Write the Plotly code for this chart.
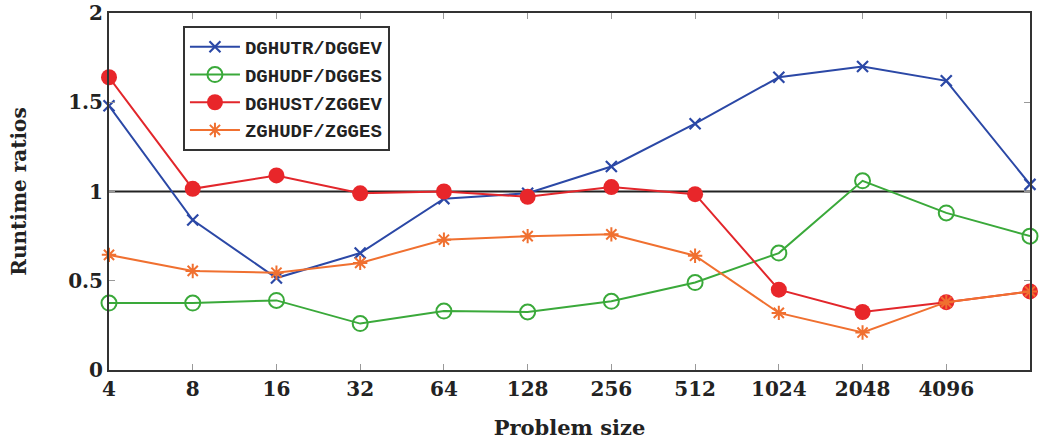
import plotly.graph_objects as go

sizes = ["4", "8", "16", "32", "64", "128", "256", "512", "1024", "2048", "4096", "8192"]
tick_labels = ["4", "8", "16", "32", "64", "128", "256", "512", "1024", "2048", "4096", ""]

dghutr_dggev = [1.48, 0.84, 0.515, 0.655, 0.96, 0.99, 1.14, 1.38, 1.64, 1.70, 1.62, 1.04]
dghudf_dgges = [0.375, 0.375, 0.39, 0.26, 0.33, 0.325, 0.385, 0.49, 0.655, 1.06, 0.88, 0.75]
dghust_zggev = [1.64, 1.015, 1.09, 0.99, 1.0, 0.97, 1.025, 0.985, 0.45, 0.325, 0.38, 0.44]
zghudf_zgges = [0.645, 0.555, 0.545, 0.60, 0.73, 0.75, 0.76, 0.64, 0.32, 0.21, 0.38, 0.44]

fig = go.Figure()
fig.add_trace(go.Scatter(x=sizes, y=dghutr_dggev, name="<b>DGHUTR/DGGEV</b>", mode="lines+markers",
                         line=dict(color="#2b48a6", width=2),
                         marker=dict(symbol="x-thin-open", size=11, line=dict(color="#2b48a6", width=2.2)),
                         cliponaxis=False))
fig.add_trace(go.Scatter(x=sizes, y=dghudf_dgges, name="<b>DGHUDF/DGGES</b>", mode="lines+markers",
                         line=dict(color="#3aa93a", width=2),
                         marker=dict(symbol="circle-open", size=15, line=dict(color="#3aa93a", width=2)),
                         cliponaxis=False))
fig.add_trace(go.Scatter(x=sizes, y=dghust_zggev, name="<b>DGHUST/ZGGEV</b>", mode="lines+markers",
                         line=dict(color="#e2262b", width=2),
                         marker=dict(symbol="circle", size=16, color="#e8262a"),
                         cliponaxis=False))
fig.add_trace(go.Scatter(x=sizes, y=zghudf_zgges, name="<b>ZGHUDF/ZGGES</b>", mode="lines+markers",
                         line=dict(color="#f07030", width=2),
                         marker=dict(symbol="asterisk-open", size=12, line=dict(color="#f07030", width=2)),
                         cliponaxis=False))

fig.add_shape(type="line", xref="paper", yref="y", x0=0, x1=1, y0=1, y1=1,
              line=dict(color="#222222", width=2), layer="below")

tick_font = dict(family="DejaVu Serif", size=20, color="#222222")
fig.update_layout(
    width=1039, height=442,
    margin=dict(l=109, r=9, t=13, b=72),
    plot_bgcolor="white", paper_bgcolor="white",
    showlegend=True,
    legend=dict(x=0.0803, y=0.9636, xanchor="left", yanchor="top",
                bgcolor="white", bordercolor="#333333", borderwidth=2,
                font=dict(family="Liberation Mono", size=19, color="#222222"),
                itemwidth=50),
    xaxis=dict(type="category", categoryorder="array", categoryarray=sizes,
               tickvals=sizes, ticktext=["<b>%s</b>" % t if t else "" for t in tick_labels],
               range=[0, 11], showgrid=False, zeroline=False, automargin=False,
               showline=True, linecolor="#333333", linewidth=2, mirror="ticks",
               ticks="inside", ticklen=6, tickcolor="#999999",
               tickfont=tick_font, ticklabeloverflow="allow",
               title=dict(text="<b>Problem size</b>",
                          font=dict(family="DejaVu Serif", size=21, color="#222222"), standoff=20)),
    yaxis=dict(range=[0, 2], tickvals=[0, 0.5, 1, 1.5, 2],
               ticktext=["<b>0</b>", "<b>0.5</b>", "<b>1</b>", "<b>1.5</b>", "<b>2</b>"],
               showgrid=False, zeroline=False, automargin=False,
               showline=True, linecolor="#333333", linewidth=2, mirror="ticks",
               ticks="inside", ticklen=6, tickcolor="#999999",
               tickfont=tick_font, ticklabeloverflow="allow",
               title=dict(text="<b>Runtime ratios</b>",
                          font=dict(family="DejaVu Serif", size=20, color="#222222"), standoff=36)),
)

fig.write_html("out.html", config={"displayModeBar": False},
               post_script="document.body.style.margin='0';")
